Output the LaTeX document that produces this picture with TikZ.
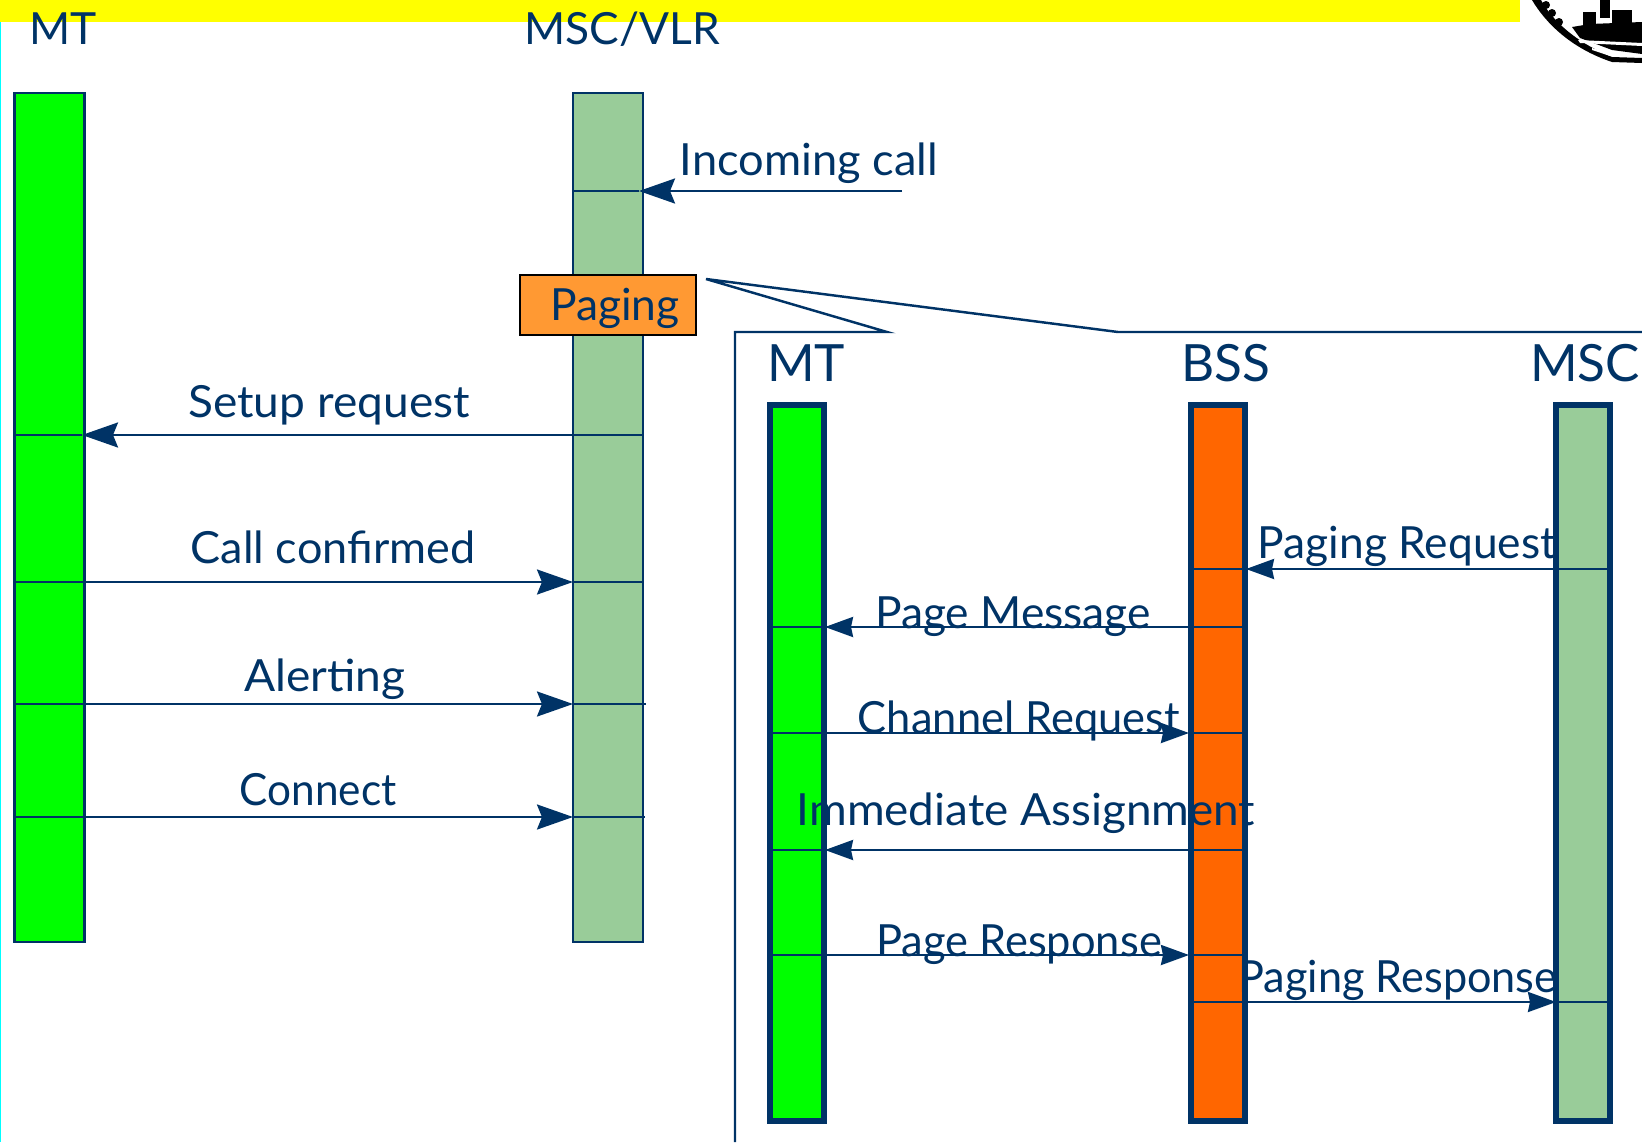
\documentclass[tikz,border=0pt]{standalone}
\usepackage{fontspec}
\setmainfont{Lato}
\usetikzlibrary{arrows.meta,positioning}
\definecolor{navy}{HTML}{003366}
\definecolor{palegreen}{HTML}{99CC99}
\definecolor{boxorange}{HTML}{FF9933}
\definecolor{bssorange}{HTML}{FF6600}
\definecolor{mtgreen}{HTML}{00FF00}
\definecolor{banneryellow}{HTML}{FFFF00}
\definecolor{edgecyan}{HTML}{00FFFF}
\tikzset{
bar/.style = {draw=navy, rectangle, inner sep=0pt, line width=0.7pt, minimum width=0.7cm, minimum height=8.49cm},
ibar/.style = {draw=navy, rectangle, inner sep=0pt, line width=1.7pt, minimum width=0.54cm, minimum height=7.16cm},
tmp/.style = {coordinate},
label/.style = {text=navy, inner sep=0pt, font=\fontsize{12.6}{15}\selectfont},
title/.style = {text=navy, inner sep=0pt, font=\fontsize{14.6}{17}\selectfont},
wire/.style = {draw=navy, line width=0.7pt},
msg/.style = {wire, -{Stealth[length=0.36cm,width=0.25cm,inset=0.05cm]}},
imsg/.style = {wire, -{Stealth[length=0.28cm,width=0.2cm,inset=0.02cm]}}
}
\begin{document}
\begin{tikzpicture}[x=0.01cm,y=-0.01cm]
	\useasboundingbox (0,0) rectangle (1642,1142);
	\fill[banneryellow] (0,0) rectangle (1520,22);
	\fill[edgecyan] (0,22) rectangle (1,1142);
	% crest
	\fill[black] (1532,0) .. controls (1545,22) and (1570,48) .. (1612,62) -- (1642,63) -- (1642,58) -- (1612,57) .. controls (1575,42) and (1552,20) .. (1541,0) -- cycle;
	\fill[black] (1572,27) -- (1590,24) -- (1642,22) -- (1642,54) -- (1612,50) -- (1580,38) -- cycle;
	\fill[black] (1600,0) rectangle (1610,18);
	\fill[black] (1583,12) rectangle (1596,26);
	\fill[black] (1612,10) rectangle (1632,26);
	\fill[black] (1546,5) circle (4) (1552,13) circle (4) (1559,22) circle (4);
	\fill[white] (1578,40) -- (1642,43) -- (1642,46) -- (1580,43) -- cycle;
	\fill[white] (1592,48) -- (1612,54) -- (1610,56) -- (1592,50) -- cycle;
	% overall chart
	\node[bar, fill=mtgreen, at={(49.5,517.5)}] (mtbar) {};
	\node[bar, fill=palegreen, right of=mtbar, node distance=5.58cm] (vlrbar) {};
	\node[label] (mtname) at (63,29) {MT};
	\node[label] (vlrname) at (622,29) {MSC/VLR};
	\node[tmp] (callend) at (902,191) {};
	\node[tmp] (callin) at (639,191) {};
	\node[tmp] (callback) at (573,191) {};
	\node[tmp] (setupa) at (643,435) {};
	\node[tmp] (setupb) at (82,435) {};
	\node[tmp] (setupc) at (13,435) {};
	\node[tmp] (confa) at (14,582) {};
	\node[tmp] (confb) at (573,582) {};
	\node[tmp] (confc) at (643,582) {};
	\node[tmp] (alerta) at (14,704) {};
	\node[tmp] (alertb) at (573,704) {};
	\node[tmp] (alertc) at (646,704) {};
	\node[tmp] (conna) at (13,817) {};
	\node[tmp] (connb) at (573,817) {};
	\node[tmp] (connc) at (645,817) {};
	\draw[msg] (callend) -- (callin);
	\draw[wire] (callin) -- (callback);
	\draw[msg] (setupa) -- (setupb);
	\draw[wire] (setupb) -- (setupc);
	\draw[msg] (confa) -- (confb);
	\draw[wire] (confb) -- (confc);
	\draw[msg] (alerta) -- (alertb);
	\draw[wire] (alertb) -- (alertc);
	\draw[msg] (conna) -- (connb);
	\draw[wire] (connb) -- (connc);
	\node[label, xscale=1.02] (calltext) at (809,163) {Incoming call};
	\node[label, xscale=1.04] (setuptext) at (329,405) {Setup request};
	\node[label, xscale=1.015] (conftext) at (333,547) {Call confirmed};
	\node[label, xscale=1.04] (alerttext) at (325,679) {Alerting};
	\node[label, xscale=0.955] (conntext) at (318,790) {Connect};
	\node[draw=black, fill=boxorange, line width=0.75pt, minimum width=1.76cm, minimum height=0.6cm, at={(608,305)}] (pagingbox) {};
	\node[label] (pagingtext) at (615,308) {Paging};
	% zoomed paging chart
	\node[tmp] (apex) at (706,279) {};
	\node[tmp] (framea) at (735,1142) {};
	\node[tmp] (frameb) at (735,332) {};
	\node[tmp] (framec) at (887,332) {};
	\node[tmp] (framed) at (1118,332) {};
	\node[tmp] (framee) at (1642,332) {};
	\draw[wire] (framea) -- (frameb) -- (framec) -- (apex) -- (framed) -- (framee);
	\node[ibar, fill=mtgreen, at={(797,763)}] (imtbar) {};
	\node[ibar, fill=bssorange, right of=imtbar, node distance=4.205cm] (bssbar) {};
	\node[ibar, fill=palegreen, right of=bssbar, node distance=3.655cm] (mscbar) {};
	\node[title] (imtname) at (806,363) {MT};
	\node[title] (bssname) at (1226,363) {BSS};
	\node[title] (mscname) at (1585,363) {MSC};
	\node[tmp] (reqa) at (1610,569) {};
	\node[tmp] (reqb) at (1555,569) {};
	\node[tmp] (reqc) at (1246,569) {};
	\node[tmp] (reqd) at (1190,569) {};
	\node[tmp] (msga) at (1243,627) {};
	\node[tmp] (msgb) at (1187,627) {};
	\node[tmp] (msgc) at (825,627) {};
	\node[tmp] (msgd) at (770,627) {};
	\node[tmp] (chana) at (770,733) {};
	\node[tmp] (chanb) at (827,733) {};
	\node[tmp] (chanc) at (1189,733) {};
	\node[tmp] (chand) at (1243,733) {};
	\node[tmp] (assa) at (1243,850) {};
	\node[tmp] (assb) at (1187,850) {};
	\node[tmp] (assc) at (825,850) {};
	\node[tmp] (assd) at (770,850) {};
	\node[tmp] (respa) at (770,955) {};
	\node[tmp] (respb) at (827,955) {};
	\node[tmp] (respc) at (1189,955) {};
	\node[tmp] (respd) at (1243,955) {};
	\node[tmp] (pressa) at (1190,1002) {};
	\node[tmp] (pressb) at (1248,1002) {};
	\node[tmp] (pressc) at (1556,1002) {};
	\node[tmp] (pressd) at (1610,1002) {};
	\draw[wire] (reqa) -- (reqb);
	\draw[imsg] (reqb) -- (reqc);
	\draw[wire] (reqc) -- (reqd);
	\draw[wire] (msga) -- (msgb);
	\draw[imsg] (msgb) -- (msgc);
	\draw[wire] (msgc) -- (msgd);
	\draw[wire] (chana) -- (chanb);
	\draw[imsg] (chanb) -- (chanc);
	\draw[wire] (chanc) -- (chand);
	\draw[wire] (assa) -- (assb);
	\draw[imsg] (assb) -- (assc);
	\draw[wire] (assc) -- (assd);
	\draw[wire] (respa) -- (respb);
	\draw[imsg] (respb) -- (respc);
	\draw[wire] (respc) -- (respd);
	\draw[wire] (pressa) -- (pressb);
	\draw[imsg] (pressb) -- (pressc);
	\draw[wire] (pressc) -- (pressd);
	\node[label] (reqtext) at (1407,546) {Paging Request};
	\node[label] (msgtext) at (1013,617) {Page Message};
	\node[label, xscale=0.98] (chantext) at (1019,721) {Channel Request};
	\node[label, xscale=1.035] (asstext) at (1026,813) {Immediate Assignment};
	\node[label, xscale=0.98] (resptext) at (1019,945) {Page Response};
	\node[label, xscale=0.975] (presstext) at (1398,980) {Paging Response};
\end{tikzpicture}
\end{document}
